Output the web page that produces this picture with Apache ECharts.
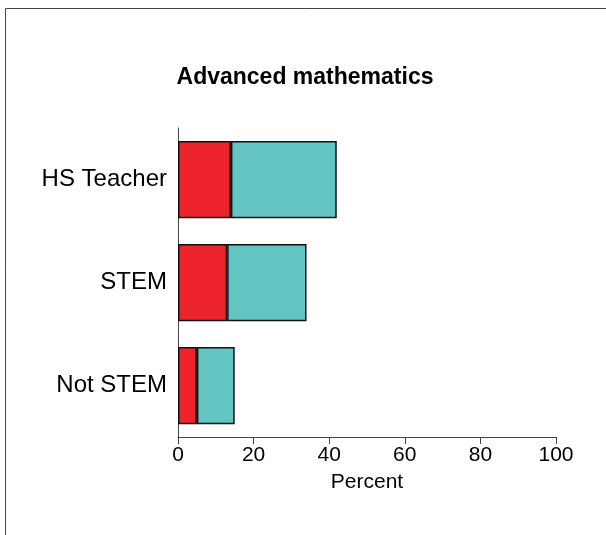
<!DOCTYPE html>
<html>
<head>
<meta charset="utf-8">
<script src="https://cdn.jsdelivr.net/npm/echarts@6/dist/echarts.min.js"></script>
<style>html,body{margin:0;padding:0;background:#fff;}#c{width:606px;height:535px;}</style>
</head>
<body>
<div id="c"></div>
<script>
const categories = ['Not STEM', 'STEM', 'HS Teacher'];
const redValues = [5, 13, 14];
const tealValues = [10, 21, 28];
const xTicks = [0, 20, 40, 60, 80, 100];

const chart = echarts.init(document.getElementById('c'), null, {renderer: 'canvas'});
const font = 'Liberation Sans, Arial, sans-serif';
chart.setOption({
  animation: false,
  backgroundColor: '#fff',
  title: {
    text: 'Advanced mathematics',
    left: 300, top: 61, textAlign: 'center',
    textStyle: {fontFamily: font, fontSize: 23, fontWeight: 'bold', color: '#000'}
  },
  graphic: [
    {type: 'line', shape: {x1: 5.5, y1: 8.5, x2: 606, y2: 8.5}, style: {stroke: '#444', lineWidth: 1}},
    {type: 'line', shape: {x1: 5.5, y1: 8.5, x2: 5.5, y2: 535}, style: {stroke: '#444', lineWidth: 1}}
  ],
  grid: {left: 178, right: 50, top: 128, bottom: 98, containLabel: false},
  xAxis: {
    type: 'value', min: xTicks[0], max: xTicks[xTicks.length - 1], interval: 20,
    name: 'Percent', nameLocation: 'middle', nameGap: 35,
    nameTextStyle: {fontFamily: font, fontSize: 21, color: '#000'},
    axisLine: {show: true, lineStyle: {color: '#444', width: 1}},
    axisTick: {show: true, length: 7, lineStyle: {color: '#444'}},
    axisLabel: {fontFamily: font, fontSize: 21, color: '#000', margin: 8},
    splitLine: {show: false}
  },
  yAxis: {
    type: 'category', data: categories,
    axisLine: {show: true, lineStyle: {color: '#444', width: 1}},
    axisTick: {show: false},
    axisLabel: {fontFamily: font, fontSize: 24, color: '#000', margin: 11}
  },
  series: [
    {type: 'bar', stack: 'a', data: redValues, barWidth: '75%',
     itemStyle: {color: '#EE242C', borderColor: '#111', borderWidth: 1.5}},
    {type: 'bar', stack: 'a', data: tealValues, barWidth: '75%',
     itemStyle: {color: '#63C6C3', borderColor: '#111', borderWidth: 1.5}}
  ]
});
</script>
</body>
</html>
